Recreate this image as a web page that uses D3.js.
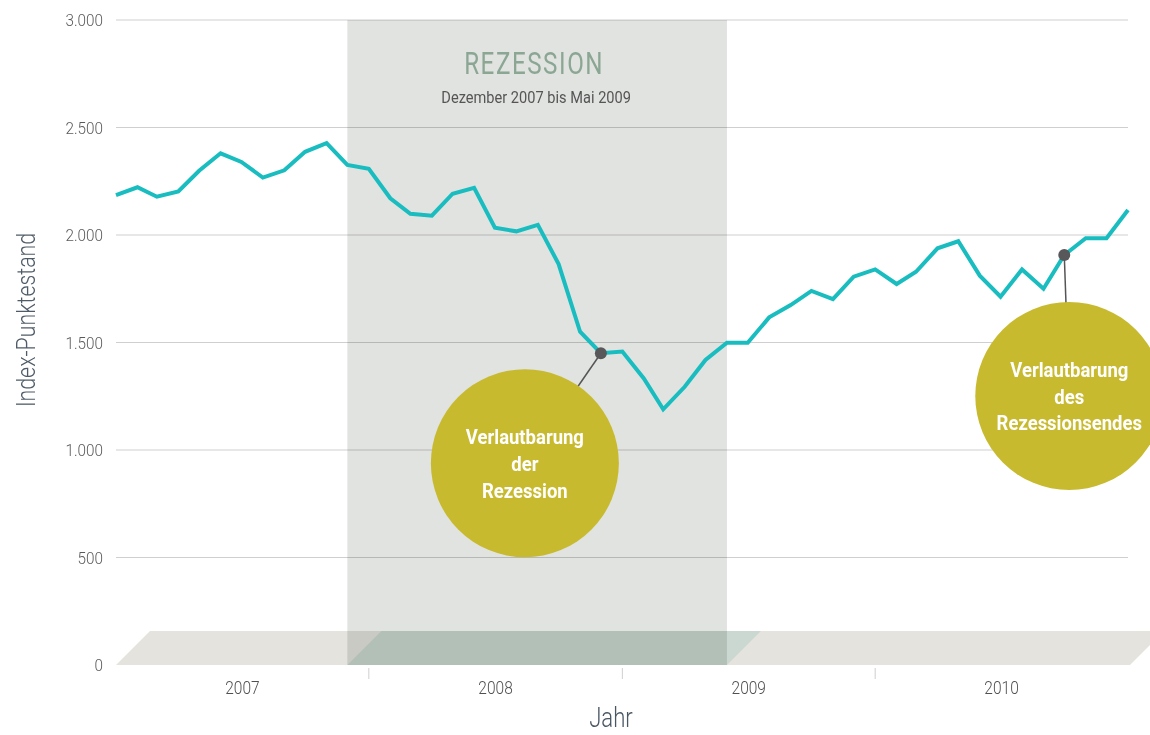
<!DOCTYPE html>
<html>
<head>
<meta charset="utf-8">
<script src="https://cdn.jsdelivr.net/npm/d3@7"></script>
<style>
  html, body { margin: 0; padding: 0; background: #fff; overflow: hidden; }
  svg { display: block; }
  text { font-family: Roboto, "Noto Sans", sans-serif; }
</style>
</head>
<body>
<svg id="chart" width="1150" height="735"></svg>
<script>
// ---------- data ----------
const startMonth = new Date(2007, 0, 1);
const endMonth = new Date(2011, 0, 1);
const months = d3.timeMonth.range(startMonth, d3.timeMonth.offset(endMonth, 1)); // Jan 2007 .. Jan 2011
const indexValues = [
  2186, 2222, 2178, 2203, 2299, 2380, 2340, 2267, 2301, 2387, 2427, 2326,
  2308, 2171, 2099, 2090, 2192, 2219, 2034, 2017, 2047, 1865, 1550, 1450,
  1458, 1333, 1189, 1294, 1419, 1499, 1499, 1617, 1674, 1740, 1702, 1806,
  1840, 1772, 1829, 1938, 1971, 1811, 1713, 1840, 1750, 1907, 1985, 1985,
  2116
];
const yTicks = [0, 500, 1000, 1500, 2000, 2500, 3000];
const yearLabels = ["2007", "2008", "2009", "2010"];
const recessionStart = new Date(2007, 11, 1);
const recessionEnd = new Date(2009, 5, 1);
const recessionTitle = "REZESSION";
const recessionSubtitle = "Dezember 2007 bis Mai 2009";
const annotations = [
  { date: new Date(2008, 11, 1), lines: ["Verlautbarung", "der", "Rezession"], dx: -76, dy: 110 },
  { date: new Date(2010, 9, 1), lines: ["Verlautbarung", "des", "Rezessionsendes"], dx: 5, dy: 141 }
];
const yTitle = "Index-Punktestand";
const xTitle = "Jahr";

const data = months.map((m, i) => ({ date: m, value: indexValues[i] }));

// ---------- layout ----------
const svg = d3.select("#chart");
const x = d3.scaleTime().domain([startMonth, endMonth]).range([116, 1128]);
const y = d3.scaleLinear().domain([0, 3000]).range([665, 20]);
const slant = 34;
const floorTop = y(0) - 34;

const fmt = v => d3.format(",")(v).replace(/,/g, ".");

// condensed text helper: horizontally squeezed text
function ctext(parent, tx, ty, str, o) {
  const t = parent.append("text")
    .attr("transform", `translate(${tx},${ty})${o.rotate ? ` rotate(${o.rotate})` : ""} scale(${o.sx || 0.82},1)`)
    .attr("text-anchor", o.anchor || "middle")
    .attr("font-size", o.size)
    .attr("font-weight", o.weight || 400)
    .attr("fill", o.fill);
  if (o.spacing) t.attr("letter-spacing", o.spacing);
  t.text(str);
  return t;
}

// gridlines
svg.append("g").selectAll("line")
  .data(yTicks.filter(t => t > 0))
  .join("line")
  .attr("x1", x.range()[0]).attr("x2", x.range()[1])
  .attr("y1", d => y(d)).attr("y2", d => y(d))
  .attr("stroke", "#cfcfcf").attr("stroke-width", 1);

// y tick labels
const gy = svg.append("g");
yTicks.forEach(t => ctext(gy, 103, y(t) + 6, fmt(t), { size: 17, weight: 300, fill: "#5a5a5a", anchor: "end", sx: 0.9 }));

// floor (beige)
const x0 = x.range()[0], x1 = x.range()[1] + 2;
svg.append("path")
  .attr("d", `M${x0},${y(0)} L${x0 + slant},${floorTop} L${x1 + slant},${floorTop} L${x1},${y(0)} Z`)
  .attr("fill", "#e4e3de");

// recession floor (green)
const rx0 = x(recessionStart), rx1 = x(recessionEnd);
svg.append("path")
  .attr("d", `M${rx0},${y(0)} L${rx0 + slant},${floorTop} L${rx1 + slant},${floorTop} L${rx1},${y(0)} Z`)
  .attr("fill", "#cbd8d1");

// recession band
svg.append("rect")
  .attr("x", rx0).attr("y", y(3000))
  .attr("width", rx1 - rx0).attr("height", y(0) - y(3000))
  .attr("fill", "#e1e3e0")
  .style("mix-blend-mode", "multiply");

// recession labels
const rcx = (rx0 + rx1) / 2 - 3;
ctext(svg, rcx, 74, recessionTitle, { size: 31, weight: 400, fill: "#8ba693", spacing: 2, sx: 0.78 });
ctext(svg, rcx + 2, 103, recessionSubtitle, { size: 17, weight: 400, fill: "#555", sx: 0.86 });

// x ticks
const yearStarts = [new Date(2008, 0, 1), new Date(2009, 0, 1), new Date(2010, 0, 1)];
svg.append("g").selectAll("line")
  .data(yearStarts)
  .join("line")
  .attr("x1", d => x(d)).attr("x2", d => x(d))
  .attr("y1", y(0) + 3).attr("y2", y(0) + 14)
  .attr("stroke", "#cfcfcf").attr("stroke-width", 1);

const gx = svg.append("g");
yearLabels.forEach(d => {
  const cx = (x(new Date(+d, 0, 1)) + x(new Date(+d + 1, 0, 1))) / 2;
  ctext(gx, cx, 694, d, { size: 18.5, weight: 300, fill: "#505050", sx: 0.84 });
});

// axis titles
ctext(svg, 35, 320, yTitle, { size: 26, weight: 300, fill: "#4f5c68", rotate: -90, sx: 0.82 });
ctext(svg, 611, 727, xTitle, { size: 27, weight: 300, fill: "#4a5763", sx: 0.82 });

// line
const line = d3.line().x(d => x(d.date)).y(d => y(d.value));
svg.append("path")
  .datum(data)
  .attr("d", line)
  .attr("fill", "none")
  .attr("stroke", "#19bdc0")
  .attr("stroke-width", 4)
  .attr("stroke-linejoin", "miter");

// annotations
annotations.forEach(a => {
  const pt = data.find(d => +d.date === +a.date);
  const px = x(pt.date), py = y(pt.value);
  const cx = px + a.dx, cy = py + a.dy;
  svg.append("line")
    .attr("x1", px).attr("y1", py).attr("x2", cx).attr("y2", cy)
    .attr("stroke", "#555").attr("stroke-width", 1.5);
  svg.append("circle")
    .attr("cx", px).attr("cy", py).attr("r", 6)
    .attr("fill", "#58585a");
  svg.append("circle")
    .attr("cx", cx).attr("cy", cy).attr("r", 94)
    .attr("fill", "#c8ba2f");
  const t = svg.append("text")
    .attr("transform", `translate(${cx},${cy}) scale(0.88,1)`)
    .attr("text-anchor", "middle")
    .attr("font-size", 21).attr("font-weight", 700)
    .attr("fill", "#fff");
  a.lines.forEach((l, i) => {
    t.append("tspan")
      .attr("x", 0).attr("y", -19 + i * 26.7)
      .text(l);
  });
});
</script>
</body>
</html>
